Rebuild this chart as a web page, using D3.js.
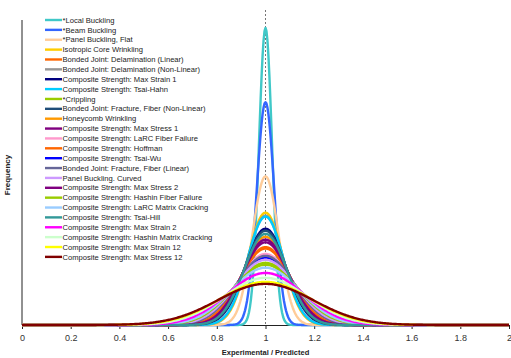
<!DOCTYPE html>
<html><head><meta charset="utf-8">
<script src="https://cdn.jsdelivr.net/npm/d3@7"></script>
<style>body{margin:0;background:#fff;}svg{display:block;}</style>
</head><body>
<svg id="c" width="511" height="358"></svg>
<script>
// Series: fitted normal distributions of Experimental/Predicted ratio
const seriesNames = [
  "*Local Buckling","*Beam Buckling","*Panel Buckling, Flat","Isotropic Core Wrinkling",
  "Bonded Joint: Delamination (Linear)","Bonded Joint: Delamination (Non-Linear)",
  "Composite Strength: Max Strain 1","Composite Strength: Tsai-Hahn","*Crippling",
  "Bonded Joint: Fracture, Fiber (Non-Linear)","Honeycomb Wrinkling","Composite Strength: Max Stress 1",
  "Composite Strength: LaRC Fiber Failure","Composite Strength: Hoffman","Composite Strength: Tsai-Wu",
  "Bonded Joint: Fracture, Fiber (Linear)","Panel Buckling. Curved","Composite Strength: Max Stress 2",
  "Composite Strength: Hashin Fiber Failure","Composite Strength: LaRC Matrix Cracking",
  "Composite Strength: Tsai-Hill","Composite Strength: Max Strain 2",
  "Composite Strength: Hashin Matrix Cracking","Composite Strength: Max Strain 12",
  "Composite Strength: Max Stress 12"
];
const seriesColors = [
  "#40c8c8","#3366ff","#ffcc99","#ffcc00","#ff6600","#969696","#000080","#00ccff","#99cc00",
  "#1f4e79","#ff9900","#800080","#ff99cc","#ff6600","#0000ff","#666699","#cc99ff","#800080",
  "#99cc00","#99ccff","#339999","#ff00ff","#ccffcc","#ffff00","#800000"
];
const seriesMean = [
  1.0,1.0,1.0,1.0,1.0,1.0,1.0,1.0,1.0,1.0,1.0,1.0,1.0,1.0,1.0,1.0,1.0,1.0,1.0,1.0,1.0,1.0,1.0,1.0,1.0
];
const seriesSd = [
  0.027,0.036,0.054,0.0714,0.103,0.0734,0.0833,0.074,0.129,0.085,0.0909,0.094,
  0.113,0.105,0.119,0.116,0.123,0.097,0.133,0.140,0.088,0.154,0.170,0.186,0.195
];
const xTicks = [0,0.2,0.4,0.6,0.8,1,1.2,1.4,1.6,1.8,2];
const xTickLabels = ["0","0.2","0.4","0.6","0.8","1","1.2","1.4","1.6","1.8","2"];

const svg = d3.select("#c");
const mL = 22, mR = 509, mT = 20, mB = 325;
const x = d3.scaleLinear().domain([0,2]).range([mL,mR]);
const y = d3.scaleLinear().domain([0,15.17]).range([mB,mT]);

// axes
svg.append("line").attr("x1",mL).attr("x2",mL).attr("y1",mT).attr("y2",mB)
  .attr("stroke","#222").attr("stroke-width",1);
const xAxis = d3.axisBottom(x).tickValues(xTicks).tickSize(4).tickFormat((d,i)=>xTickLabels[i]);
const gx = svg.append("g").attr("transform",`translate(0,${mB})`).call(xAxis);
gx.select(".domain").attr("stroke","#222");
gx.selectAll(".tick line").attr("stroke","#222");
gx.selectAll(".tick text").attr("font-family","Liberation Sans, Arial, sans-serif")
  .attr("font-size","9px").attr("fill","#333").attr("dy","1.05em");

// reference line at 1
svg.append("line").attr("x1",x(1)).attr("x2",x(1)).attr("y1",10).attr("y2",mB)
  .attr("stroke","#777").attr("stroke-width",1).attr("stroke-dasharray","2,2");

// curves
const xs = d3.range(0,2.0001,0.004);
const line = d3.line().x(d=>x(d[0])).y(d=>y(d[1])).curve(d3.curveLinear);
seriesNames.forEach((n,i)=>{
  const m = seriesMean[i], s = seriesSd[i];
  const pts = xs.map(v=>[v, Math.exp(-0.5*((v-m)/s)**2)/(s*Math.sqrt(2*Math.PI))]);
  svg.append("path").attr("d",line(pts)).attr("fill","none")
    .attr("stroke",seriesColors[i]).attr("stroke-width",2.4).attr("stroke-linejoin","round");
});

// legend
const lg = svg.append("g");
seriesNames.forEach((n,i)=>{
  const yy = 20 + i*9.87;
  lg.append("line").attr("x1",45).attr("x2",62).attr("y1",yy).attr("y2",yy)
    .attr("stroke",seriesColors[i]).attr("stroke-width",2.4);
  lg.append("text").attr("x",62.5).attr("y",yy).attr("dy","0.35em")
    .attr("font-family","Liberation Sans, Arial, sans-serif").attr("font-size","7.6px")
    .attr("fill","#222").text(n);
});

// titles
svg.append("text").attr("x",x(1)).attr("y",355).attr("text-anchor","middle")
  .attr("font-family","Liberation Sans, Arial, sans-serif").attr("font-size","7.5px")
  .attr("font-weight","bold").attr("fill","#222").text("Experimental / Predicted");
svg.append("text").attr("transform","translate(10,175) rotate(-90)").attr("text-anchor","middle")
  .attr("font-family","Liberation Sans, Arial, sans-serif").attr("font-size","8px")
  .attr("font-weight","bold").attr("fill","#222").text("Frequency");
</script>
</body></html>
